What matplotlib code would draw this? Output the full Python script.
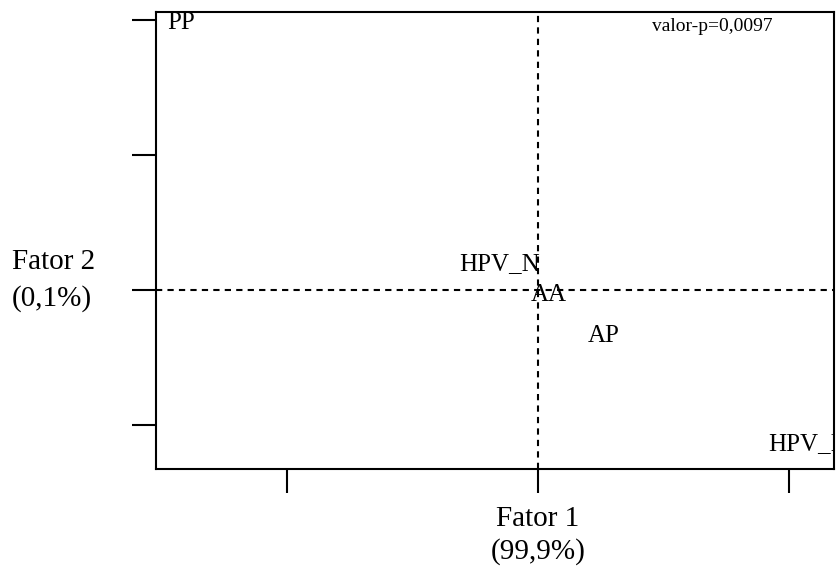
import matplotlib
matplotlib.use("Agg")
import matplotlib.pyplot as plt

plt.rcParams['font.family'] = ['Liberation Serif', 'DejaVu Serif']

# coordenadas da analise de correspondencia
rotulos = ["PP", "HPV_N", "AA", "AP", "HPV_P"]
fator1 = [-0.1422, -0.0155, 0.0044, 0.0263, 0.1068]
fator2 = [0.0198, 0.0019, -0.0004, -0.0034, -0.0114]

xticks = [-0.1, 0.0, 0.1]
yticks = [-0.01, 0.0, 0.01, 0.02]

fig = plt.figure(figsize=(8.36, 5.71), dpi=100)
ax = fig.add_axes([0.1866, 0.1786, 0.811, 0.8004])

for lab, x, y in zip(rotulos, fator1, fator2):
    ax.text(x, y, lab, ha="center", va="center", fontsize=18, clip_on=True)

ax.axvline(0, color="black", lw=1.5, ls=(0, (3, 2.5)))
ax.axhline(0, color="black", lw=1.5, ls=(0, (3, 2.5)))

ax.set_xlim(-0.1522, 0.1179)
ax.set_ylim(-0.01326, 0.0206)
ax.set_xticks(xticks)
ax.set_yticks(yticks)
ax.set_xticklabels([])
ax.set_yticklabels([])
ax.tick_params(direction="out", length=17, width=1.5)
for s in ax.spines.values():
    s.set_linewidth(1.5)

ax.text(0.82, 0.968, "valor-p=0,0097", transform=ax.transAxes,
        ha="center", va="center", fontsize=14)

fig.text(538 / 836, 1 - 519 / 571, "Fator 1", ha="center", va="center", fontsize=21)
fig.text(538 / 836, 1 - 552 / 571, "(99,9%)", ha="center", va="center", fontsize=21)
fig.text(12 / 836, 1 - 262 / 571, "Fator 2", ha="left", va="center", fontsize=21)
fig.text(12 / 836, 1 - 299 / 571, "(0,1%)", ha="left", va="center", fontsize=21)

fig.savefig("out.png", dpi=100)
